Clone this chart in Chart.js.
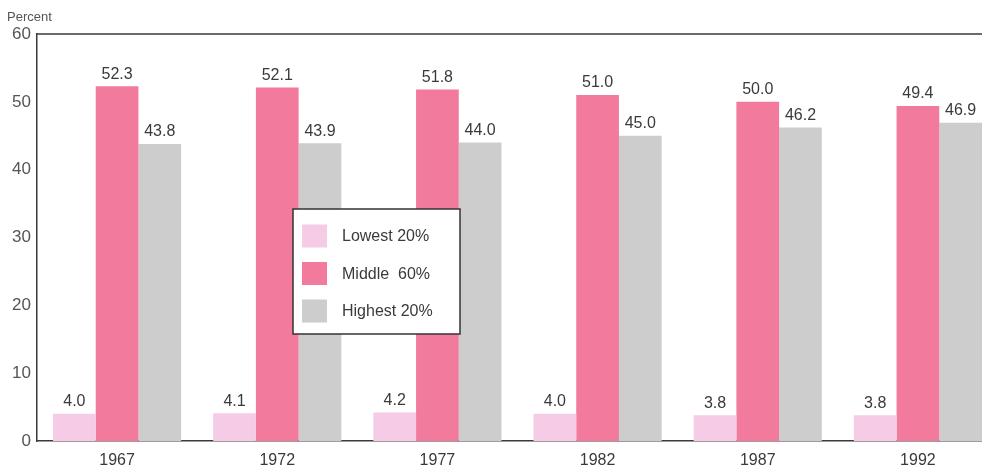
<!DOCTYPE html>
<html>
<head>
<meta charset="utf-8">
<script src="https://cdn.jsdelivr.net/npm/chart.js@4/dist/chart.umd.min.js"></script>
<style>
  html, body { margin: 0; padding: 0; background: #fff; overflow: hidden; }
  #wrap { position: absolute; left: 0; top: 0; width: 998px; height: 467px; }
</style>
</head>
<body>
<div id="wrap"><canvas id="c"></canvas></div>
<script>
// Share of aggregate household income, by year
const years = ['1967', '1972', '1977', '1982', '1987', '1992'];
const lowest20 = [4.0, 4.1, 4.2, 4.0, 3.8, 3.8];
const middle60 = [52.3, 52.1, 51.8, 51.0, 50.0, 49.4];
const highest20 = [43.8, 43.9, 44.0, 45.0, 46.2, 46.9];
const seriesNames = ['Lowest 20%', 'Middle  60%', 'Highest 20%'];
const seriesColors = ['#f5cbe5', '#f27a9d', '#cdcdcd'];
const yTicks = [0, 10, 20, 30, 40, 50, 60];
const axisTitle = 'Percent';

const FONT = '"Liberation Sans", Arial, Helvetica, sans-serif';
const INK = '#3a3a3a';

// Frame line along the top of the plot, axis title, value labels and the boxed key
const decorations = {
  id: 'decorations',
  afterDatasetsDraw(chart) {
    const { ctx, chartArea } = chart;
    ctx.save();
    // top frame line
    ctx.strokeStyle = INK;
    ctx.lineWidth = 1.5;
    ctx.beginPath();
    ctx.moveTo(chartArea.left, chartArea.top);
    ctx.lineTo(chartArea.right, chartArea.top);
    ctx.stroke();

    // axis title
    ctx.fillStyle = '#555';
    ctx.font = '13px ' + FONT;
    ctx.textAlign = 'left';
    ctx.textBaseline = 'middle';
    ctx.fillText(axisTitle, 7, 17);

    // values above bars
    ctx.font = '16px ' + FONT;
    ctx.fillStyle = INK;
    ctx.textAlign = 'center';
    ctx.textBaseline = 'bottom';
    chart.data.datasets.forEach((ds, i) => {
      const meta = chart.getDatasetMeta(i);
      meta.data.forEach((bar, j) => {
        ctx.fillText(ds.data[j].toFixed(1), bar.x, bar.y - 4);
      });
    });

    // key box
    const bx = 293, by = 209, bw = 167, bh = 125;
    ctx.fillStyle = '#fff';
    ctx.fillRect(bx, by, bw, bh);
    ctx.strokeStyle = '#333';
    ctx.lineWidth = 1.5;
    ctx.strokeRect(bx, by, bw, bh);
    ctx.font = '16px ' + FONT;
    ctx.textAlign = 'left';
    ctx.textBaseline = 'middle';
    chart.data.datasets.forEach((ds, i) => {
      const cy = 236 + i * 37.5;
      ctx.fillStyle = ds.backgroundColor;
      ctx.fillRect(302, cy - 11.5, 25, 23);
      ctx.fillStyle = INK;
      ctx.fillText(ds.label, 342, cy + 1);
    });
    ctx.restore();
  }
};

new Chart(document.getElementById('c'), {
  type: 'bar',
  data: {
    labels: years,
    datasets: [
      { label: seriesNames[0], data: lowest20, backgroundColor: seriesColors[0] },
      { label: seriesNames[1], data: middle60, backgroundColor: seriesColors[1] },
      { label: seriesNames[2], data: highest20, backgroundColor: seriesColors[2] }
    ]
  },
  options: {
    responsive: true,
    maintainAspectRatio: false,
    animation: false,
    layout: { padding: { top: 34, left: 0, right: 0, bottom: 0 } },
    datasets: { bar: { categoryPercentage: 0.8, barPercentage: 1.0 } },
    plugins: { legend: { display: false }, tooltip: { enabled: false } },
    scales: {
      x: {
        grid: { display: false, drawTicks: false },
        border: { display: true, color: INK, width: 1.5 },
        ticks: { color: INK, font: { family: FONT, size: 16 }, padding: 10 },
        afterFit(scale) { scale.height = 26; }
      },
      y: {
        min: 0, max: 60,
        afterBuildTicks(scale) { scale.ticks = yTicks.map(v => ({ value: v })); },
        grid: { display: false, drawTicks: false },
        border: { display: true, color: INK, width: 1.5 },
        ticks: { color: '#555', font: { family: FONT, size: 17 }, padding: 6 },
        afterFit(scale) { scale.width = 37; }
      }
    }
  },
  plugins: [decorations]
});
</script>
</body>
</html>
